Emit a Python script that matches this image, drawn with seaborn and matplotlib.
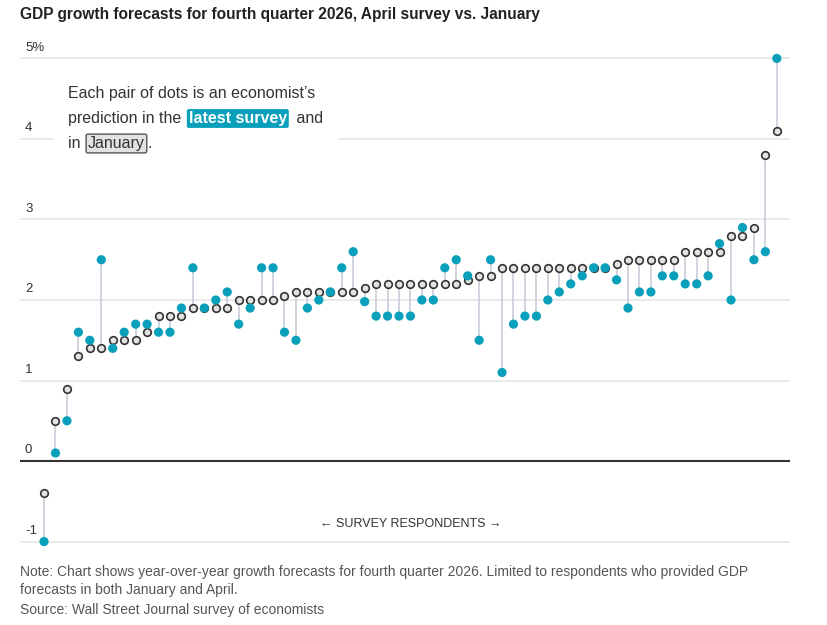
import pandas as pd
import numpy as np
import matplotlib
matplotlib.use('Agg')
import matplotlib.pyplot as plt
import seaborn as sns
from matplotlib.patches import Rectangle

# values, sorted by January forecast
january = [-0.4, 0.5, 0.9, 1.3, 1.4, 1.4, 1.5, 1.5, 1.5, 1.6, 1.8, 1.8, 1.8, 1.9, 1.9, 1.9, 1.9,
           2.0, 2.0, 2.0, 2.0, 2.05, 2.1, 2.1, 2.1, 2.1, 2.1, 2.1, 2.15, 2.2, 2.2, 2.2, 2.2, 2.2,
           2.2, 2.2, 2.2, 2.25, 2.3, 2.3, 2.4, 2.4, 2.4, 2.4, 2.4, 2.4, 2.4, 2.4, 2.4, 2.4, 2.45,
           2.5, 2.5, 2.5, 2.5, 2.5, 2.6, 2.6, 2.6, 2.6, 2.8, 2.8, 2.9, 3.8, 4.1]
april = [-1.0, 0.1, 0.5, 1.6, 1.5, 2.5, 1.4, 1.6, 1.7, 1.7, 1.6, 1.6, 1.9, 2.4, 1.9, 2.0, 2.1,
         1.7, 1.9, 2.4, 2.4, 1.6, 1.5, 1.9, 2.0, 2.1, 2.4, 2.6, 1.98, 1.8, 1.8, 1.8, 1.8, 2.0,
         2.0, 2.4, 2.5, 2.3, 1.5, 2.5, 1.1, 1.7, 1.8, 1.8, 2.0, 2.1, 2.2, 2.3, 2.4, 2.4, 2.25,
         1.9, 2.1, 2.1, 2.3, 2.3, 2.2, 2.2, 2.3, 2.7, 2.0, 2.9, 2.5, 2.6, 5.0]
y_ticks = [-1, 0, 1, 2, 3, 4, 5]
y_labels = ['-1', '0', '1', '2', '3', '4', '5%']

TEAL = '#0aa0bb'
W, H = 828, 625

df = pd.DataFrame({'respondent': np.arange(len(january)), 'january': january, 'april': april})

sns.set_style('white')
plt.rcParams['font.family'] = ['Liberation Sans', 'DejaVu Sans']

fig = plt.figure(figsize=(W / 100, H / 100), dpi=100)
ax = fig.add_axes([20 / W, 1 - 548 / H, 770 / W, 496 / H])

# connectors
ax.vlines(df['respondent'], df['january'], df['april'], color='#c9ccd8', lw=1.2, zorder=2)
sns.scatterplot(data=df, x='respondent', y='january', ax=ax, s=30, color='#e2e2e2',
                edgecolor='#333333', linewidth=1.2, zorder=3)
sns.scatterplot(data=df, x='respondent', y='april', ax=ax, s=44, color=TEAL,
                edgecolor='none', linewidth=0, zorder=4)

ax.set_xlim(-2.1, 65.15)
ax.set_ylim(-1.08, 5.08)
for v in y_ticks:
    if v == 0:
        ax.axhline(v, color='#333333', lw=1.5, zorder=1)
    else:
        ax.axhline(v, color='#e6e6e6', lw=1.2, zorder=1)
for v, lab in zip(y_ticks, y_labels):
    ax.text(5 / 11.45 - 2.1, v + 0.06, lab, ha='left', va='bottom', fontsize=9.5, color='#333333')
ax.set_xticks([])
ax.set_yticks([])
ax.set_xlabel('')
ax.set_ylabel('')
for s in ax.spines.values():
    s.set_visible(False)

ax.text(32, -0.78, '← SURVEY RESPONDENTS →', ha='center', va='center', fontsize=9, color='#333333')

fig.text(20 / W, 1 - 14 / H, 'GDP growth forecasts for fourth quarter 2026, April survey vs. January',
         ha='left', va='center', fontsize=11.2, fontweight='bold', color='#222222')

fig.text(20 / W, 1 - 572 / H, 'Note: Chart shows year-over-year growth forecasts for fourth quarter 2026. '
         'Limited to respondents who provided GDP', ha='left', va='center', fontsize=10, color='#555555')
fig.text(20 / W, 1 - 590 / H, 'forecasts in both January and April.', ha='left', va='center',
         fontsize=10, color='#555555')
fig.text(20 / W, 1 - 610 / H, 'Source: Wall Street Journal survey of economists', ha='left', va='center',
         fontsize=10, color='#555555')

# annotation box
fig.add_artist(Rectangle((53 / W, 1 - 152 / H), 285 / W, 82 / H, transform=fig.transFigure,
                         facecolor='white', edgecolor='none', zorder=5))
fig.canvas.draw()
rend = fig.canvas.get_renderer()


def put(x, y, s, color='#333333', **kw):
    t = fig.text(x / W, 1 - y / H, s, ha='left', va='baseline', fontsize=11.5,
                 color=color, zorder=6, **kw)
    return x + t.get_window_extent(renderer=rend).width


put(68, 98, 'Each pair of dots is an economist’s')
x = put(68, 123, 'prediction in the ')
x = put(x + 3, 123, 'latest survey', color='white', fontweight='bold',
        bbox=dict(boxstyle='round,pad=0.12', fc=TEAL, ec='none'))
put(x + 5, 123, ' and')
x = put(68, 148, 'in ')
x = put(x + 3, 148, 'January', bbox=dict(boxstyle='round,pad=0.12', fc='#e2e2e2', ec='#555555', lw=1))
put(x + 3, 148, '.')

fig.savefig('out.png', dpi=100)
